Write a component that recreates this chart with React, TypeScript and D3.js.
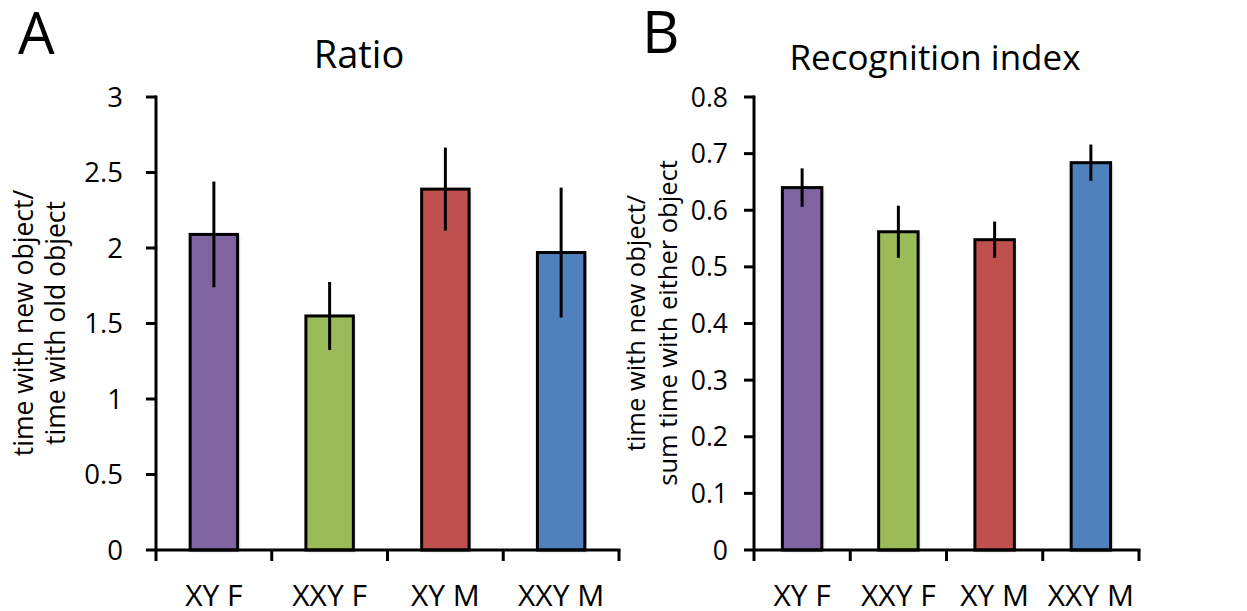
import React from "react";
import * as d3 from "d3";

const categories = ["XY F", "XXY F", "XY M", "XXY M"];
const barColors = ["#8064A2", "#9BBB59", "#C0504D", "#4F81BD"];

const ratioMeans = [2.09, 1.55, 2.39, 1.97];
const ratioErrors = [0.35, 0.225, 0.275, 0.43];
const ratioTicks = [0, 0.5, 1, 1.5, 2, 2.5, 3];
const ratioTickLabels = ["0", "0.5", "1", "1.5", "2", "2.5", "3"];

const indexMeans = [0.64, 0.562, 0.548, 0.684];
const indexErrors = [0.034, 0.046, 0.032, 0.032];
const indexTicks = [0, 0.1, 0.2, 0.3, 0.4, 0.5, 0.6, 0.7, 0.8];
const indexTickLabels = ["0", "0.1", "0.2", "0.3", "0.4", "0.5", "0.6", "0.7", "0.8"];

const FONT = "'Open Sans', 'Noto Sans', sans-serif";

type PanelProps = {
  letter: string;
  letterX: number;
  letterY: number;
  title: string;
  titleX: number;
  titleY: number;
  titleSize: number;
  yTitle: string[];
  yTitleX: number;
  yTitleSize: number;
  x0: number;
  x1: number;
  yMax: number;
  means: number[];
  errors: number[];
  ticks: number[];
  tickLabels: string[];
  labelEnd: number;
  tickSize: number;
};

function Panel(p: PanelProps) {
  const yTop = 97;
  const yBottom = 550;
  const y = d3.scaleLinear().domain([0, p.yMax]).range([yBottom, yTop]);
  const x = d3
    .scaleBand<string>()
    .domain(categories)
    .range([p.x0, p.x1])
    .paddingInner(0.59)
    .paddingOuter(0.295);
  const step = x.step();
  const boundaries = d3.range(categories.length + 1).map((i) => p.x0 + i * step);
  const midY = 323;
  return (
    <g>
      <text x={p.letterX} y={p.letterY} fontSize={58} fontFamily={FONT}>
        {p.letter}
      </text>
      <text x={p.titleX} y={p.titleY} fontSize={p.titleSize} fontFamily={FONT} textAnchor="middle">
        {p.title}
      </text>
      <text
        transform={`translate(${p.yTitleX},${midY}) rotate(-90)`}
        fontSize={p.yTitleSize}
        fontFamily={FONT}
        textAnchor="middle"
      >
        <tspan x={0} dy={0}>{p.yTitle[0]}</tspan>
        <tspan x={0} dy={32}>{p.yTitle[1]}</tspan>
      </text>
      {categories.map((c, i) => (
        <rect
          key={"s" + c}
          x={(x(c) as number) + 2}
          y={y(p.means[i]) + 2}
          width={x.bandwidth()}
          height={yBottom - y(p.means[i])}
          fill="#000"
          opacity={0.12}
          filter="url(#blur)"
        />
      ))}
      {categories.map((c, i) => (
        <rect
          key={c}
          x={x(c) as number}
          y={y(p.means[i])}
          width={x.bandwidth()}
          height={yBottom - y(p.means[i])}
          fill={barColors[i]}
          stroke="#000"
          strokeWidth={3}
        />
      ))}
      {categories.map((c, i) => {
        const cx = (x(c) as number) + x.bandwidth() / 2;
        return (
          <line
            key={"e" + c}
            x1={cx}
            x2={cx}
            y1={y(p.means[i] + p.errors[i])}
            y2={y(p.means[i] - p.errors[i])}
            stroke="#000"
            strokeWidth={3}
          />
        );
      })}
      <line x1={p.x0} x2={p.x0} y1={yTop - 1.5} y2={yBottom} stroke="#000" strokeWidth={3} />
      {p.ticks.map((t, i) => (
        <g key={"t" + i}>
          <line x1={p.x0 - 10} x2={p.x0} y1={y(t)} y2={y(t)} stroke="#000" strokeWidth={3} />
          <text
            x={p.labelEnd}
            y={y(t)}
            dy="0.36em"
            fontSize={p.tickSize}
            fontFamily={FONT}
            textAnchor="end"
          >
            {p.tickLabels[i]}
          </text>
        </g>
      ))}
      <line x1={p.x0 - 1.5} x2={p.x1 + 1.5} y1={yBottom} y2={yBottom} stroke="#000" strokeWidth={3} />
      {boundaries.map((bx, i) => (
        <line key={"b" + i} x1={bx} x2={bx} y1={yBottom} y2={yBottom + 11} stroke="#000" strokeWidth={3} />
      ))}
      {categories.map((c) => (
        <text
          key={"l" + c}
          x={(x(c) as number) + x.bandwidth() / 2}
          y={606}
          fontSize={30}
          fontFamily={FONT}
          textAnchor="middle"
        >
          {c}
        </text>
      ))}
    </g>
  );
}

export default function App() {
  return (
    <svg
      width={1247}
      height={611}
      style={{ position: "absolute", left: 0, top: 0, background: "#fff" }}
    >
      <defs>
        <filter id="blur" x="-20%" y="-20%" width="140%" height="140%">
          <feGaussianBlur stdDeviation={1.5} />
        </filter>
      </defs>
      <rect width={1247} height={611} fill="#fff" />
      <Panel
        letter="A"
        letterX={18}
        letterY={54}
        title="Ratio"
        titleX={359}
        titleY={68}
        titleSize={38}
        yTitle={["time with new object/", "time with old object"]}
        yTitleX={33}
        yTitleSize={26.5}
        x0={156}
        x1={619}
        yMax={3}
        means={ratioMeans}
        errors={ratioErrors}
        ticks={ratioTicks}
        tickLabels={ratioTickLabels}
        labelEnd={123}
        tickSize={27.5}
      />
      <Panel
        letter="B"
        letterX={642}
        letterY={53}
        title="Recognition index"
        titleX={935}
        titleY={70}
        titleSize={35}
        yTitle={["time with new object/", "sum time with either object"]}
        yTitleX={645}
        yTitleSize={25.5}
        x0={754}
        x1={1139}
        yMax={0.8}
        means={indexMeans}
        errors={indexErrors}
        ticks={indexTicks}
        tickLabels={indexTickLabels}
        labelEnd={728}
        tickSize={26.5}
      />
    </svg>
  );
}
